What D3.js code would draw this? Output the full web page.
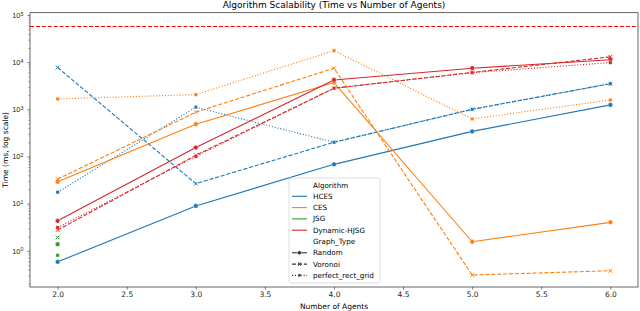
<!DOCTYPE html>
<html>
<head>
<meta charset="utf-8">
<script src="https://cdn.jsdelivr.net/npm/d3@7"></script>
<style>
  html, body { margin: 0; padding: 0; background: #fff; }
  svg { display: block; font-family: "DejaVu Sans", sans-serif; }
</style>
</head>
<body>
<svg id="chart" width="640" height="311"></svg>
<script>
// ---- data ----
const agents = [2, 3, 4, 5, 6];
const algorithms = ["HCES", "CES", "JSG", "Dynamic-HJSG"];
const graphTypes = ["Random", "Voronoi", "perfect_rect_grid"];
const xTicks = [2.0, 2.5, 3.0, 3.5, 4.0, 4.5, 5.0, 5.5, 6.0];
const yTickExps = [0, 1, 2, 3, 4, 5];
const timeoutMs = 60000;

const hcesRandom  = [0.58, 8.9, 68, 340, 1240];
const hcesVoronoi = [7700, 26.5, 200, 1000, 3500];
const hcesGrid    = [17.4, 1110, 200, 1000, 3500];
const cesRandom   = [29, 483, 3700, 1.55, 4.0];
const cesVoronoi  = [33, 870, 7450, 0.305, 0.376];
const cesGrid     = [1660, 2050, 17600, 625, 1580];
const jsgRandom   = [1.37, null, null, null, null];
const jsgVoronoi  = [1.92, null, null, null, null];
const jsgGrid     = [0.80, null, null, null, null];
const dynRandom   = [4.3, 154, 4200, 7450, 11300];
const dynVoronoi  = [2.75, 106, 2800, 6050, 13000];
const dynGrid     = [3.1, 100, 2800, 6000, 9800];

const seriesValues = {
  "HCES": [hcesRandom, hcesVoronoi, hcesGrid],
  "CES": [cesRandom, cesVoronoi, cesGrid],
  "JSG": [jsgRandom, jsgVoronoi, jsgGrid],
  "Dynamic-HJSG": [dynRandom, dynVoronoi, dynGrid]
};

// ---- style ----
const colors = { "HCES": "#1f77b4", "CES": "#ff7f0e", "JSG": "#2ca02c", "Dynamic-HJSG": "#d62728" };
const lw = 1.1;
const dashes = { "Random": null, "Voronoi": "4.1,1.8", "perfect_rect_grid": "1.1,1.8" };

const m = { left: 30, right: 638, top: 12.7, bottom: 287 };

const svg = d3.select("#chart");

const x = d3.scaleLinear().domain([1.8, 6.2]).range([m.left, m.right]);
const y = d3.scaleLog().domain([Math.pow(10, -0.77), Math.pow(10, 5.05)]).range([m.bottom, m.top]);

const clipId = "plotclip";
svg.append("defs").append("clipPath").attr("id", clipId)
  .append("rect").attr("x", m.left).attr("y", m.top)
  .attr("width", m.right - m.left).attr("height", m.bottom - m.top);

// ---- axes ----
const xAxis = d3.axisBottom(x).tickValues(xTicks).tickFormat(d3.format(".1f")).tickSizeOuter(0).tickSize(2.6).tickPadding(2.5);
const gx = svg.append("g").attr("transform", `translate(0,${m.bottom})`).call(xAxis);
gx.select(".domain").remove();
gx.selectAll("line").attr("stroke", "#262626").attr("stroke-width", 0.6);
gx.selectAll("text").attr("font-size", 7.5).attr("fill", "#262626").attr("font-family", "DejaVu Sans");

// y minor ticks
const minor = [];
for (let e = -1; e <= 5; e++) for (let k = 2; k <= 9; k++) {
  const v = k * Math.pow(10, e);
  if (v >= y.domain()[0] && v <= y.domain()[1]) minor.push(v);
}
const gyMinor = svg.append("g").attr("transform", `translate(${m.left},0)`)
  .call(d3.axisLeft(y).tickValues(minor).tickFormat("").tickSize(1.5).tickSizeOuter(0));
gyMinor.select(".domain").remove();
gyMinor.selectAll("line").attr("stroke", "#262626").attr("stroke-width", 0.45);

const yMajor = yTickExps.map(e => Math.pow(10, e));
const gy = svg.append("g").attr("transform", `translate(${m.left},0)`)
  .call(d3.axisLeft(y).tickValues(yMajor).tickFormat("").tickSize(2.6).tickSizeOuter(0));
gy.select(".domain").remove();
gy.selectAll("line").attr("stroke", "#262626").attr("stroke-width", 0.6);
gy.selectAll(".tick").each(function(d, i) {
  const t = d3.select(this).append("text")
    .attr("x", -6.5).attr("dy", "0.32em")
    .attr("text-anchor", "end").attr("font-size", 7.5).attr("fill", "#262626");
  t.append("tspan").text("10");
  t.append("tspan").attr("dy", "-0.45em").attr("font-size", 5.3).text(String(yTickExps[i]));
});

// ---- series ----
const plot = svg.append("g").attr("clip-path", `url(#${clipId})`);

// ---- timeout line ----
const ty = Math.round(y(timeoutMs)) + 0.5;
plot.append("path")
  .attr("d", `M${m.left},${ty}H${m.right}`)
  .style("stroke", "rgb(255,0,0)").style("stroke-width", "1.2px")
  .style("stroke-dasharray", "4.1,1.8").style("fill", "none");

function drawMarker(g, gt, cx, cy, color, scale) {
  const s = scale || 1;
  if (gt === "Random") {
    g.append("circle").attr("cx", cx).attr("cy", cy).attr("r", 2.4 * s)
      .attr("fill", color).attr("stroke", "#fff").attr("stroke-width", 0.45);
  } else if (gt === "Voronoi") {
    const r = 1.9 * s;
    g.append("path").attr("d", `M${cx - r},${cy - r}L${cx + r},${cy + r}M${cx - r},${cy + r}L${cx + r},${cy - r}`)
      .attr("stroke", color).attr("stroke-width", 1.0).attr("fill", "none");
  } else {
    const r = 1.7 * s;
    g.append("rect").attr("x", cx - r).attr("y", cy - r).attr("width", 2 * r).attr("height", 2 * r)
      .attr("fill", color).attr("stroke", "#fff").attr("stroke-width", 0.35);
  }
}

const lineGen = d3.line().defined(d => d.v != null).x(d => x(d.a)).y(d => y(d.v));

algorithms.forEach(alg => {
  graphTypes.forEach((gt, gi) => {
    const vals = seriesValues[alg][gi];
    const pts = agents.map((a, i) => ({ a, v: vals[i] }));
    plot.append("path").datum(pts)
      .attr("d", lineGen)
      .attr("fill", "none")
      .attr("stroke", colors[alg])
      .attr("stroke-width", lw)
      .attr("stroke-dasharray", dashes[gt])
      .attr("stroke-linejoin", "round");
    const mg = plot.append("g");
    pts.filter(p => p.v != null).forEach(p => drawMarker(mg, gt, x(p.a), y(p.v), colors[alg]));
  });
});

// ---- frame ----
svg.append("rect").attr("x", m.left).attr("y", m.top)
  .attr("width", m.right - m.left).attr("height", m.bottom - m.top)
  .attr("fill", "none").attr("stroke", "#262626").attr("stroke-width", 0.7);

// ---- titles ----
svg.append("text").attr("x", (m.left + m.right) / 2).attr("y", 5).attr("dy", "0.35em")
  .attr("text-anchor", "middle").attr("font-size", 9).attr("fill", "#000")
  .text("Algorithm Scalability (Time vs Number of Agents)");
svg.append("text").attr("x", (m.left + m.right) / 2).attr("y", 306).attr("dy", "0.35em")
  .attr("text-anchor", "middle").attr("font-size", 7.5).attr("fill", "#000")
  .text("Number of Agents");
svg.append("text").attr("transform", `translate(5,${(m.top + m.bottom) / 2}) rotate(-90)`)
  .attr("dy", "0.35em").attr("text-anchor", "middle").attr("font-size", 7.5).attr("fill", "#000")
  .text("Time (ms, log scale)");

// ---- legend ----
const lg = svg.append("g");
lg.append("rect").attr("x", 289).attr("y", 178).attr("width", 91).attr("height", 105)
  .attr("rx", 2).attr("fill", "#fff").attr("fill-opacity", 0.8)
  .attr("stroke", "#d0d0d0").attr("stroke-width", 0.7);
const entries = [{ title: "Algorithm" }]
  .concat(algorithms.map(a => ({ alg: a })))
  .concat([{ title: "Graph_Type" }])
  .concat(graphTypes.map(g => ({ gt: g })));
const rowY = i => 185 + i * 11.3;
entries.forEach((e, i) => {
  const yy = rowY(i);
  const label = e.title || e.alg || e.gt;
  if (e.alg) {
    lg.append("line").attr("x1", 292).attr("x2", 307).attr("y1", yy).attr("y2", yy)
      .attr("stroke", colors[e.alg]).attr("stroke-width", lw);
  } else if (e.gt) {
    lg.append("line").attr("x1", 292).attr("x2", 307).attr("y1", yy).attr("y2", yy)
      .attr("stroke", "#333").attr("stroke-width", lw).attr("stroke-dasharray", dashes[e.gt]);
    drawMarker(lg, e.gt, 299.5, yy, "#333", 0.85);
  }
  lg.append("text").attr("x", 313).attr("y", yy).attr("dy", "0.35em")
    .attr("font-size", 7.2).attr("fill", "#000").text(label);
});
</script>
</body>
</html>
